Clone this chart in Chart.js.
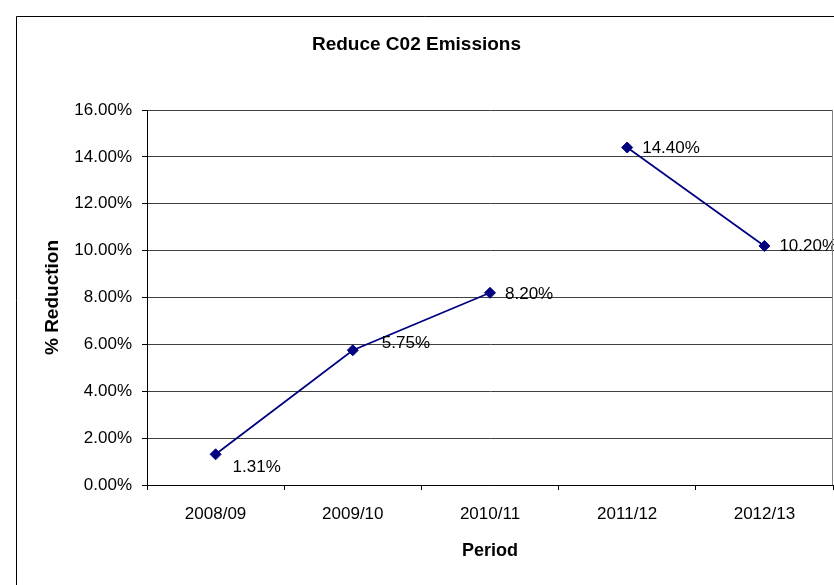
<!DOCTYPE html>
<html>
<head>
<meta charset="utf-8">
<script src="https://cdn.jsdelivr.net/npm/chart.js@4/dist/chart.umd.min.js"></script>
<style>
html, body { margin: 0; padding: 0; background: #fff; }
</style>
</head>
<body>
<canvas id="c1" width="834" height="585"></canvas>
<script>
const PERIODS = ['2008/09', '2009/10', '2010/11', '2011/12', '2012/13'];
const REDUCTION = [1.31, 5.75, 8.20, 14.40, 10.20];
const Y_MIN = 0;
const Y_MAX = 16;
const Y_STEP = 2;
// no line drawn between 2010/11 and 2011/12
const GAP_AFTER = 2;

const FONT = "'Liberation Sans', Arial, sans-serif";
const NAVY = '#000080';

// outer frame + right border of the plot area
const framePlugin = {
    id: 'frame',
    beforeDraw(chart){
        const ctx = chart.ctx;
        ctx.save();
        ctx.fillStyle = '#fff';
        ctx.fillRect(0, 0, chart.width, chart.height);
        ctx.strokeStyle = '#000';
        ctx.lineWidth = 1;
        ctx.beginPath();
        ctx.moveTo(16.5, chart.height);
        ctx.lineTo(16.5, 16.5);
        ctx.lineTo(chart.width, 16.5);
        ctx.stroke();
        ctx.restore();
    },
    afterDraw(chart){
        const a = chart.chartArea;
        const ctx = chart.ctx;
        ctx.save();
        ctx.strokeStyle = '#808080';
        ctx.lineWidth = 1;
        ctx.beginPath();
        ctx.moveTo(Math.round(a.right) - 0.5, a.top);
        ctx.lineTo(Math.round(a.right) - 0.5, a.bottom);
        ctx.stroke();
        ctx.restore();
    }
};

// value labels next to the markers
const pointLabels = {
    id: 'pointLabels',
    afterDatasetsDraw(chart, args, opts){
        const ctx = chart.ctx;
        const meta = chart.getDatasetMeta(0);
        ctx.save();
        ctx.font = opts.font;
        ctx.fillStyle = '#000';
        ctx.textAlign = 'left';
        ctx.textBaseline = 'middle';
        meta.data.forEach((pt, i) => {
            const off = opts.offsets[i] || [15, 0];
            const v = chart.data.datasets[0].data[i];
            ctx.fillText(v.toFixed(2) + '%', pt.x + off[0], pt.y + off[1]);
        });
        ctx.restore();
    }
};

const ctx = document.getElementById('c1').getContext('2d');
new Chart(ctx, {
    type: 'line',
    data: {
        labels: PERIODS,
        datasets: [{
            data: REDUCTION,
            borderColor: NAVY,
            backgroundColor: NAVY,
            borderWidth: 1.75,
            pointStyle: 'rectRot',
            pointRadius: 5.5,
            pointBorderWidth: 1,
            pointBackgroundColor: NAVY,
            pointBorderColor: NAVY,
            tension: 0,
            fill: false,
            segment: {
                borderColor: c => c.p0DataIndex === GAP_AFTER ? 'rgba(0,0,0,0)' : NAVY
            }
        }]
    },
    options: {
        responsive: false,
        animation: false,
        events: [],
        layout: { autoPadding: false, padding: { left: 0, right: 1, top: 0, bottom: 0 } },
        plugins: {
            legend: { display: false },
            tooltip: { enabled: false },
            title: {
                display: true,
                text: 'Reduce C02 Emissions',
                color: '#000',
                font: { family: FONT, size: 19, weight: 'bold' },
                padding: { top: 33.6, bottom: 53.6 }
            },
            pointLabels: {
                font: '17px ' + FONT,
                offsets: [[17, 13.5], [29, -7], [15, 1], [15, 1], [15, 0]]
            }
        },
        scales: {
            x: {
                offset: true,
                afterFit: s => {
                    s.height = 100;
                    s.paddingLeft = 0;
                    s.paddingRight = 0;
                },
                grid: {
                    offset: true,
                    drawOnChartArea: false,
                    drawTicks: true,
                    tickLength: 5,
                    color: '#000'
                },
                border: { color: '#000', width: 1 },
                ticks: {
                    color: '#000',
                    font: { family: FONT, size: 17 },
                    padding: 14.5,
                    maxRotation: 0
                },
                title: {
                    display: true,
                    text: 'Period',
                    color: '#000',
                    font: { family: FONT, size: 18, weight: 'bold' },
                    padding: { top: 0, bottom: 23.5 }
                }
            },
            y: {
                min: Y_MIN,
                max: Y_MAX,
                afterFit: s => { s.width = 147; },
                grid: {
                    color: '#404040',
                    lineWidth: 1,
                    drawTicks: true,
                    tickLength: 5,
                    tickColor: '#000'
                },
                border: { color: '#000', width: 1 },
                ticks: {
                    stepSize: Y_STEP,
                    color: '#000',
                    font: { family: FONT, size: 17 },
                    padding: 10,
                    callback: v => v.toFixed(2) + '%'
                },
                title: {
                    display: true,
                    text: '% Reduction',
                    color: '#000',
                    font: { family: FONT, size: 19, weight: 'bold' },
                    padding: { top: 41, bottom: 0 }
                }
            }
        }
    },
    plugins: [framePlugin, pointLabels]
});
</script>
</body>
</html>
